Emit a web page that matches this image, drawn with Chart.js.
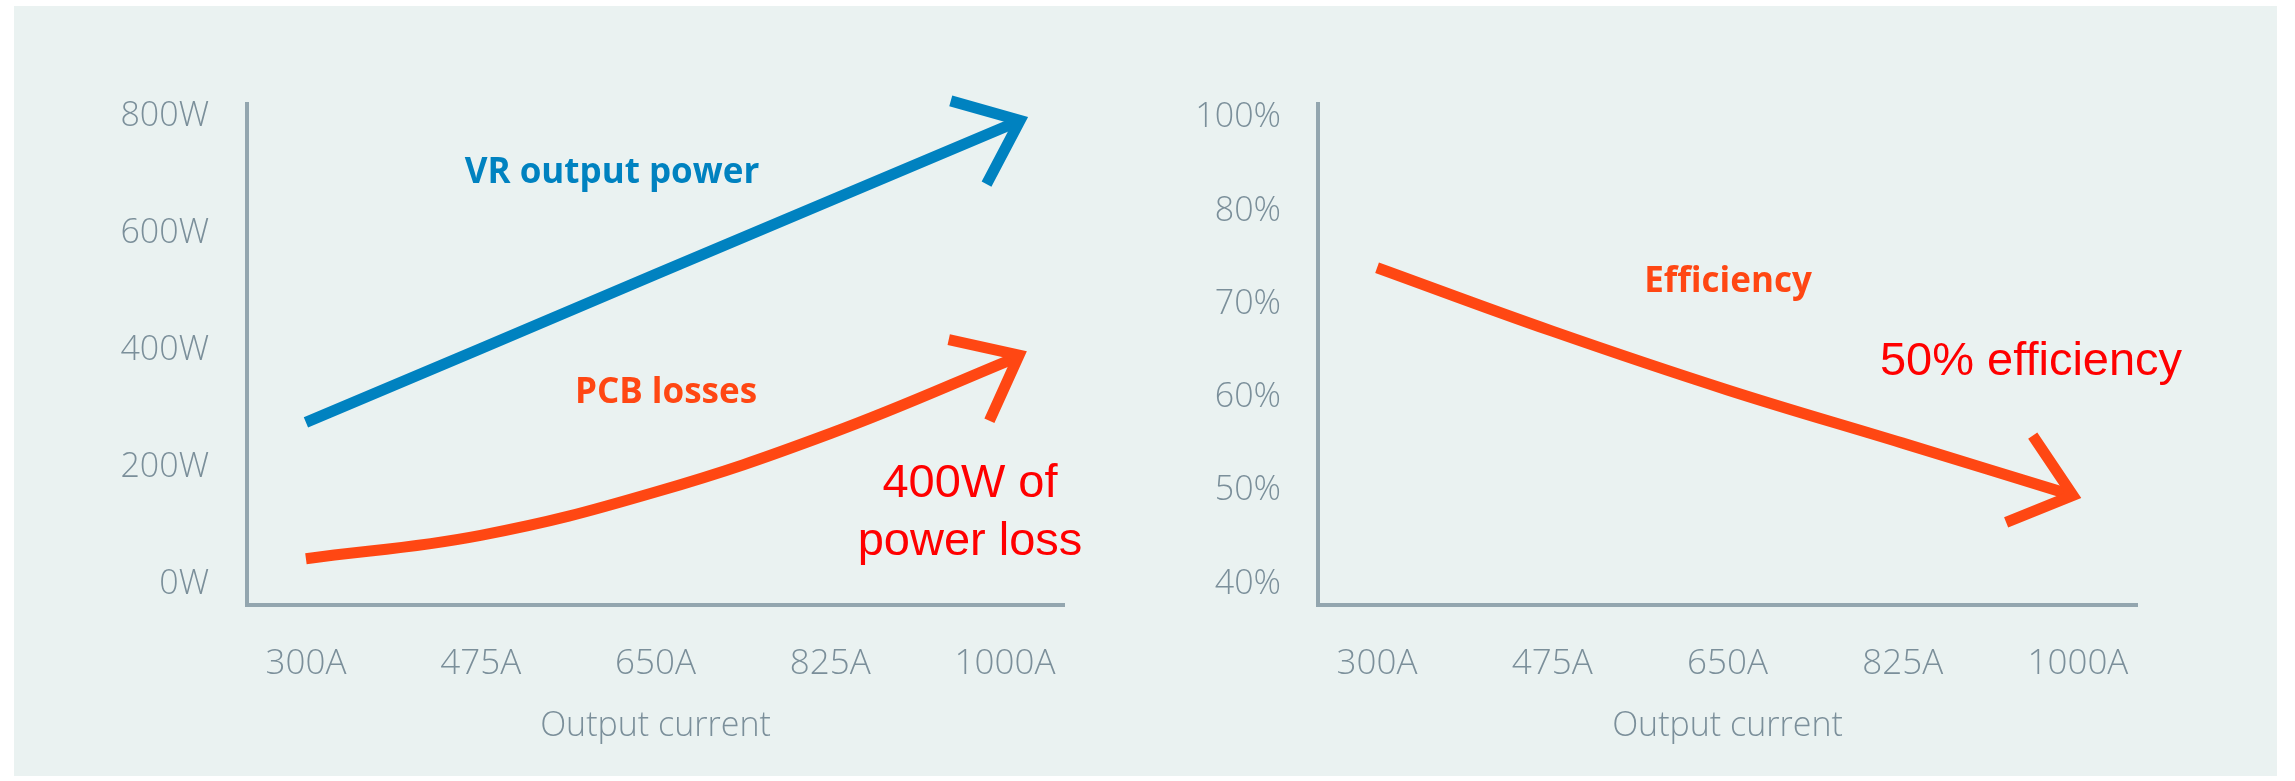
<!DOCTYPE html>
<html>
<head>
  <meta charset="UTF-8" />
  <title>VR output power vs PCB losses</title>
  <script src="https://cdn.jsdelivr.net/npm/chart.js"></script>
  <style>
    body { margin: 0; background: #ffffff; width: 2295px; height: 781px; position: relative; overflow: hidden; }
    .panel { position: absolute; left: 14px; top: 6px; width: 2263px; height: 770px; background: #eaf2f1; }
    canvas { position: absolute; top: 0; }
    #powerChart { left: 0; }
    #effChart { left: 1150px; }
  </style>
</head>
<body>
  <div class="panel"></div>
  <canvas id="powerChart" width="1150" height="781" style="width:1150px;height:781px"></canvas>
  <canvas id="effChart" width="1145" height="781" style="width:1145px;height:781px"></canvas>

  <script>
    // tick values
    const currentTicks = [300, 475, 650, 825, 1000];
    const powerTicks = [0, 200, 400, 600, 800];
    const effTicks = [40, 50, 60, 70, 80, 90];
    const effTickLabels = ['40%', '50%', '60%', '70%', '80%', '100%'];

    // series (last point = arrow tip)
    const vrCurrent = [300, 475, 650, 825, 1000, 1015];
    const vrPower = [277, 403, 530, 656, 782, 793];
    const pcbCurrent = [300, 475, 650, 825, 1000, 1014];
    const pcbLoss = [44, 84, 158, 258, 380, 392];
    const effCurrent = [300, 475, 650, 825, 995];
    const efficiency = [73.9, 67.1, 60.8, 55.1, 49.5];

    const GREY = '#7b8f9a';
    const AXIS = '#93a6af';
    const BLUE = '#0082c0';
    const ORANGE = '#ff4713';

    const pairs = (xs, ys) => xs.map((x, i) => ({ x: x, y: ys[i] }));

    // arrow head at the end of every line
    const arrowHeads = {
      id: 'arrowHeads',
      afterDatasetsDraw(chart) {
        const ctx = chart.ctx;
        const L = 72, A = 39 * Math.PI / 180;
        chart.data.datasets.forEach((ds, i) => {
          const pts = chart.getDatasetMeta(i).data;
          const p = pts[pts.length - 1];
          let q = pts[pts.length - 2];
          if (p.cp1x !== undefined && Math.hypot(p.cp1x - p.x, p.cp1y - p.y) > 1) q = { x: p.cp1x, y: p.cp1y };
          const ang = Math.atan2(p.y - q.y, p.x - q.x);
          ctx.save();
          ctx.strokeStyle = ds.borderColor;
          ctx.lineWidth = ds.borderWidth;
          ctx.lineJoin = 'miter';
          ctx.lineCap = 'butt';
          ctx.beginPath();
          ctx.moveTo(p.x - L * Math.cos(ang - A), p.y - L * Math.sin(ang - A));
          ctx.lineTo(p.x, p.y);
          ctx.lineTo(p.x - L * Math.cos(ang + A), p.y - L * Math.sin(ang + A));
          ctx.stroke();
          ctx.restore();
        });
      }
    };

    // free text labels
    const notes = {
      id: 'notes',
      afterDraw(chart, args, opts) {
        const ctx = chart.ctx;
        (opts.items || []).forEach(n => {
          ctx.save();
          ctx.font = n.font;
          ctx.fillStyle = n.color;
          ctx.textAlign = 'center';
          ctx.textBaseline = 'alphabetic';
          ctx.fillText(n.text, n.x, n.y);
          ctx.restore();
        });
      }
    };

    const xScale = () => ({
      type: 'linear',
      min: 241,
      max: 1059,
      grid: { display: false },
      border: { display: true, color: AXIS, width: 4 },
      afterBuildTicks: s => { s.ticks = currentTicks.map(v => ({ value: v })); },
      afterFit: s => { s.height = 176; },
      ticks: {
        color: GREY,
        padding: 30,
        maxRotation: 0,
        font: { family: 'Open Sans', size: 35, weight: 300 },
        callback: v => v + 'A'
      },
      title: {
        display: true,
        text: 'Output current',
        color: GREY,
        padding: { top: 0, bottom: 34 },
        font: { family: 'Open Sans', size: 34, weight: 300 }
      }
    });

    const lineStyle = (color) => ({
      borderColor: color,
      borderWidth: 11,
      borderCapStyle: 'butt',
      pointRadius: 0,
      fill: false
    });

    const BOLD = 'bold 35px "Open Sans"';
    const RED_TXT = '47px "Liberation Sans", Arial';

    new Chart(document.getElementById('powerChart'), {
      type: 'line',
      data: {
        datasets: [
          Object.assign({ label: 'VR output power', data: pairs(vrCurrent, vrPower), tension: 0 }, lineStyle(BLUE)),
          Object.assign({ label: 'PCB losses', data: pairs(pcbCurrent, pcbLoss), tension: 0.4 }, lineStyle(ORANGE))
        ]
      },
      options: {
        responsive: false,
        animation: false,
        devicePixelRatio: 1,
        layout: { padding: { top: 104, right: 86, left: 0, bottom: 0 } },
        plugins: {
          legend: { display: false },
          tooltip: { enabled: false },
          notes: {
            items: [
              { text: 'VR output power', x: 612, y: 183, font: BOLD, color: BLUE },
              { text: 'PCB losses', x: 666, y: 403, font: BOLD, color: ORANGE },
              { text: '400W of', x: 970, y: 497, font: RED_TXT, color: '#ff0000' },
              { text: 'power loss', x: 970, y: 555, font: RED_TXT, color: '#ff0000' }
            ]
          }
        },
        scales: {
          x: xScale(),
          y: {
            min: -35,
            max: 821,
            grid: { display: false },
            border: { display: true, color: AXIS, width: 4 },
            afterBuildTicks: s => { s.ticks = powerTicks.map(v => ({ value: v })); },
            afterFit: s => { s.width = 247; },
            ticks: {
              color: GREY,
              padding: 30,
              font: { family: 'Open Sans', size: 34, weight: 300 },
              callback: v => v + 'W'
            }
          }
        }
      },
      plugins: [arrowHeads, notes]
    });

    new Chart(document.getElementById('effChart'), {
      type: 'line',
      data: {
        datasets: [
          Object.assign({ label: 'Efficiency', data: pairs(effCurrent, efficiency), tension: 0.4 }, lineStyle(ORANGE))
        ]
      },
      options: {
        responsive: false,
        animation: false,
        devicePixelRatio: 1,
        layout: { padding: { top: 104, right: 158, left: 0, bottom: 0 } },
        plugins: {
          legend: { display: false },
          tooltip: { enabled: false },
          notes: {
            items: [
              { text: 'Efficiency', x: 578, y: 292, font: BOLD, color: ORANGE },
              { text: '50% efficiency', x: 881, y: 375, font: RED_TXT, color: '#ff0000' }
            ]
          }
        },
        scales: {
          x: xScale(),
          y: {
            min: 37.75,
            max: 91.45,
            grid: { display: false },
            border: { display: true, color: AXIS, width: 4 },
            afterBuildTicks: s => { s.ticks = effTicks.map(v => ({ value: v })); },
            afterFit: s => { s.width = 168; },
            ticks: {
              color: GREY,
              padding: 29,
              font: { family: 'Open Sans', size: 34, weight: 300 },
              callback: v => effTickLabels[effTicks.indexOf(v)]
            }
          }
        }
      },
      plugins: [arrowHeads, notes]
    });
  </script>
</body>
</html>
